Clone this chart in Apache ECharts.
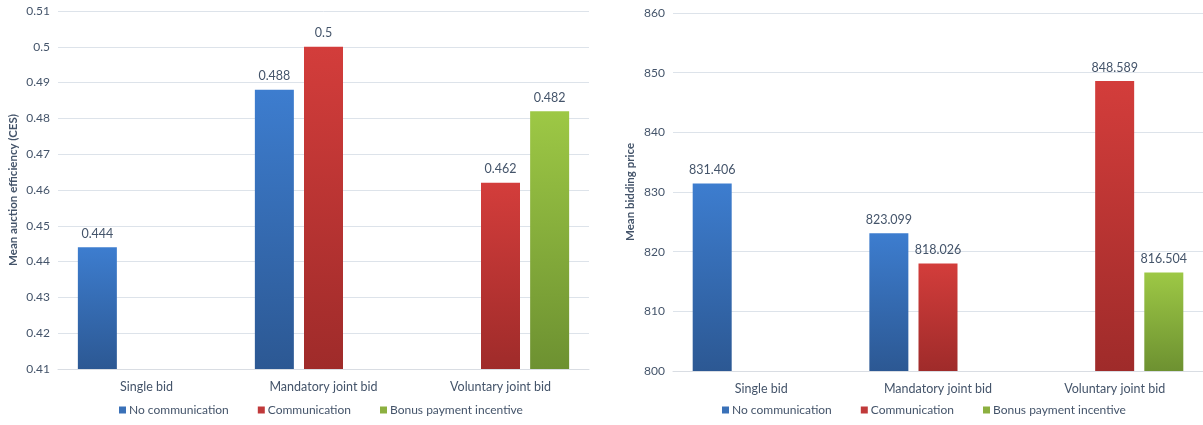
<!DOCTYPE html>
<html><head><meta charset="utf-8">
<script src="https://cdn.jsdelivr.net/npm/echarts@6/dist/echarts.min.js"></script>
<style>html,body{margin:0;padding:0;background:#fff}#c{width:1203px;height:425px}</style>
</head><body><div id="c"></div>
<script>
const categories = ['Single bid', 'Mandatory joint bid', 'Voluntary joint bid'];
const seriesNames = ['No communication', 'Communication', 'Bonus payment incentive'];
// Left chart: Mean auction efficiency (CES)
const effNoComm = [0.444, 0.488, null];
const effComm = [null, 0.5, 0.462];
const effBonus = [null, null, 0.482];
// Right chart: Mean bidding price
const priceNoComm = [831.406, 823.099, null];
const priceComm = [null, 818.026, 848.589];
const priceBonus = [null, null, 816.504];

const FONT = 'Lato';
const TXT = '#44546a';
const grad = (top, bottom) => new echarts.graphic.LinearGradient(0, 0, 0, 1, [{offset: 0, color: top}, {offset: 1, color: bottom}]);
const colors = [grad('#3d7dcf', '#2c5893'), grad('#d33d3b', '#9f2b2a'), grad('#9dc845', '#6d9131')];
const legendColors = ['#3a71b8', '#c0393a', '#8cb040'];

const chart = echarts.init(document.getElementById('c'), null, {renderer: 'canvas'});

function catAxis(gi) {
  return {
    type: 'category', gridIndex: gi, data: categories,
    axisLine: {show: true, lineStyle: {color: '#d9dde3'}},
    axisTick: {show: false},
    axisLabel: {color: TXT, fontFamily: FONT, fontSize: 12.5, margin: 11}
  };
}
function valAxis(gi, min, max, interval, name, gap) {
  return {
    type: 'value', gridIndex: gi, min, max, interval,
    name, nameLocation: 'middle', nameRotate: 90, nameGap: gap,
    nameTextStyle: {color: TXT, fontFamily: FONT, fontSize: 11.5, fontWeight: 'bold'},
    axisLine: {show: false}, axisTick: {show: false},
    axisLabel: {color: TXT, fontFamily: FONT, fontSize: 12, margin: 8},
    splitLine: {lineStyle: {color: '#dde3ea', width: 1}}
  };
}
function bar(name, data, gi, ci) {
  return {
    type: 'bar', name, data, xAxisIndex: gi, yAxisIndex: gi,
    barWidth: 39, barGap: '26%',
    itemStyle: {color: colors[ci]},
    label: {show: true, position: 'top', distance: 7, color: TXT, fontFamily: FONT, fontSize: 12.5}
  };
}
function legend(left) {
  return {
    left, top: 399, itemWidth: 7, itemHeight: 7, itemGap: 29, icon: 'rect',
    textStyle: {color: TXT, fontFamily: FONT, fontSize: 12, padding: [0, 0, 0, -2]},
    data: seriesNames.map((n, i) => ({name: n, itemStyle: {color: legendColors[i]}})),
    selectedMode: false
  };
}

chart.setOption({
  animation: false,
  grid: [
    {left: 58, top: 11, width: 531, height: 358},
    {left: 673, top: 13, width: 534, height: 358}
  ],
  xAxis: [catAxis(0), catAxis(1)],
  yAxis: [
    valAxis(0, 0.41, 0.51, 0.01, 'Mean auction efficiency (CES)', 39),
    valAxis(1, 800, 860, 10, 'Mean bidding price', 37)
  ],
  legend: [legend(114), legend(717)],
  series: [
    bar(seriesNames[0], effNoComm, 0, 0),
    bar(seriesNames[1], effComm, 0, 1),
    bar(seriesNames[2], effBonus, 0, 2),
    bar(seriesNames[0], priceNoComm, 1, 0),
    bar(seriesNames[1], priceComm, 1, 1),
    bar(seriesNames[2], priceBonus, 1, 2)
  ]
});
</script></body></html>
